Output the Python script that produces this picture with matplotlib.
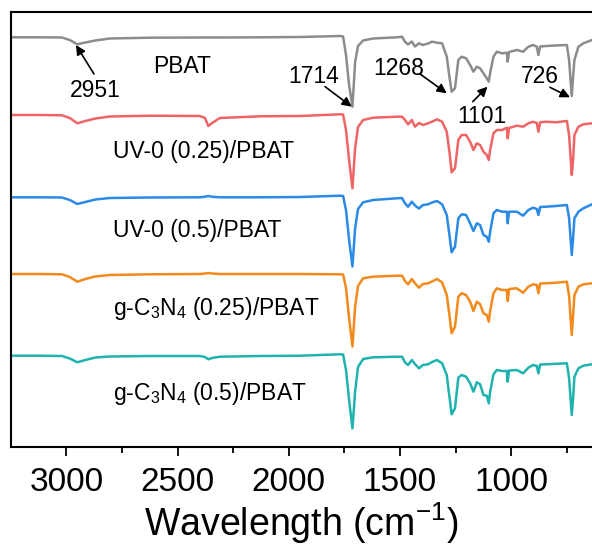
import matplotlib
matplotlib.use("Agg")
import matplotlib.pyplot as plt

plt.rcParams['font.family'] = ['Liberation Sans', 'DejaVu Sans']
plt.rcParams['mathtext.fontset'] = 'custom'
plt.rcParams['mathtext.rm'] = 'Liberation Sans'

# wavenumbers (cm-1)
wn = [3250, 3120, 3020, 2985, 2951, 2915, 2870, 2805, 2625, 2400,
      2377, 2362, 2345, 2310, 2130, 1950, 1770, 1756, 1743, 1729,
      1714, 1702, 1689, 1666, 1621, 1514, 1491, 1478, 1464, 1447,
      1433, 1415, 1397, 1374, 1356, 1334, 1311, 1290, 1278, 1268,
      1253, 1238, 1223, 1203, 1185, 1170, 1155, 1140, 1125, 1110,
      1101, 1095, 1080, 1065, 1041, 1020, 1016, 1010, 975, 947,
      923, 902, 885, 878, 870, 843, 799, 750, 740, 728,
      722, 716, 698, 676, 637]

# stacked transmittance (a.u.)
pbat = [409.7, 409.7, 409.5, 407, 402.7, 404.5, 406.5, 408.5, 409.3, 409.5,
        409.5, 409.5, 409.5, 409.5, 409.7, 410, 411, 410.5, 392, 362,
        340.3, 385, 401, 406.5, 408.5, 409.7, 410.3, 405.3, 402.5, 405.5,
        400.5, 403.7, 402, 403.5, 405.3, 404.3, 403.7, 390.3, 370.3, 355.3,
        358.7, 387, 390.3, 388.7, 382, 375.3, 380.3, 378.7, 373.7, 368.7,
        365.3, 374, 390.3, 395.3, 393.7, 394.3, 385.3, 395, 397, 395.3,
        400.3, 402, 400.3, 392, 400.5, 401, 401.5, 402, 387, 351,
        370.3, 387, 400.3, 403.7, 407]
uv_025 = [332, 332, 331.7, 329, 323.7, 326, 328.5, 330.5, 331.3, 331,
          329, 321, 324, 329, 330.7, 331, 332.7, 332.5, 317, 287,
          258.7, 298.7, 320, 327, 329.3, 330.3, 330.3, 327, 322.7, 327,
          320.3, 324, 322, 323.7, 325.3, 327.7, 325.3, 315.3, 295.3, 274.7,
          278.7, 307, 312, 312, 305.3, 297, 303.7, 302, 295.3, 292,
          287, 297, 313.7, 317, 317, 319.3, 308.7, 319, 321.3, 320.3,
          323.7, 325.3, 324, 315.3, 324.7, 325.3, 324.7, 326, 312, 272,
          287, 312, 320.3, 322.7, 323.7]
uv_05 = [249.7, 249.7, 249.5, 247, 243, 245, 247.5, 249, 249.5, 249.7,
         250.2, 251, 250.2, 249.7, 249.7, 250, 251.3, 251, 237, 207,
         180.5, 218.7, 238, 244.7, 247, 248.7, 249, 243.7, 240.3, 245.3,
         241.5, 238.5, 242, 242.7, 244.5, 246, 242.7, 232, 212, 194.7,
         200.3, 228.7, 232.7, 232, 223.7, 216, 223.7, 222, 212, 210.3,
         205.3, 215, 233.7, 237, 235.3, 235.3, 223.7, 235.3, 235.3, 231.3,
         237, 239.3, 238, 232, 240, 240.3, 241, 242, 229, 192,
         209, 228.7, 235.3, 238.7, 242.7]
cn_025 = [173, 173, 172.7, 170, 165.3, 168, 170.5, 172, 172.7, 173,
          173.5, 174, 173.5, 173, 173, 173, 172.7, 172.5, 159, 129,
          100.5, 140.3, 161, 168.7, 170.3, 171.3, 171.3, 166, 162.7, 168,
          163.7, 159.3, 163, 163.7, 165.5, 168, 164.7, 152, 132, 113.7,
          120.3, 150.3, 153.7, 152, 145.3, 136, 145.3, 142.7, 133.7, 132,
          125.3, 136, 153.7, 158.7, 157, 157, 146, 158, 158.7, 154.3,
          160.3, 162.7, 162, 153.7, 163.5, 163.7, 164.3, 165.3, 151, 112,
          132, 152, 160.3, 162.7, 163.7]
cn_05 = [91.3, 91.3, 91, 88.5, 84.7, 87, 89.5, 90.5, 91, 91,
         90, 87.7, 89, 90.3, 91, 91.3, 92.7, 92.5, 77, 47,
         18.5, 55.3, 80, 88, 89.7, 90.3, 90.3, 84.7, 82, 87,
         83, 78.7, 82, 82.7, 85, 87, 83.7, 72, 50.3, 32.7,
         38.7, 69.3, 72, 70.3, 63.7, 55.3, 64.7, 62.7, 52, 51.3,
         43.7, 55, 72.7, 77, 76, 76, 65.3, 76.5, 77, 73.7,
         79.3, 82, 81, 73.7, 82.5, 82.7, 83.2, 83.7, 69, 32,
         49, 70.3, 78.7, 81.3, 82.7]

series = [pbat, uv_025, uv_05, cn_025, cn_05]
colors = ['#8c8c8c', '#ef6565', '#2b8ae6', '#f28a1c', '#1fb3b0']
names = ['UV-0 (0.25)/PBAT', 'UV-0 (0.5)/PBAT',
         r'g-C$\mathregular{_3}$N$\mathregular{_4}$ (0.25)/PBAT',
         r'g-C$\mathregular{_3}$N$\mathregular{_4}$ (0.5)/PBAT']
name_y = [288.7, 210.3, 132, 47]

# peak marks: (label, text pos, arrow start, arrow tip)
peaks = [('2951', (2869, 350.3), (2876, 373), (2957, 402)),
         ('1714', (1887, 363.7), (1837, 360.3), (1717, 340.3)),
         ('1268', (1504, 372), (1410, 373), (1290, 353.7)),
         ('1101', (1134, 323.7), (1173, 345.3), (1107, 360.3)),
         ('726', (870, 363.7), (826, 359.7), (736, 349.7))]

fig = plt.figure(figsize=(5.92, 5.47), dpi=100)
ax = fig.add_axes([10.8/592, 100/547, 581.2/592, 435/547])

for s, c in zip(series, colors):
  ax.plot(wn, s, color=c, lw=1.8)

ax.text(2482, 373.7, 'PBAT', fontsize=16.5, ha='center', va='baseline')
for n, y in zip(names, name_y):
  ax.text(2790, y, n, fontsize=16.5, ha='left', va='baseline')

for lab, tp, a0, a1 in peaks:
  ax.text(tp[0], tp[1], lab, fontsize=16.5, ha='center', va='baseline')
  ax.annotate('', xy=a1, xytext=a0,
              arrowprops=dict(arrowstyle='-|>', color='k', lw=1.2,
                              mutation_scale=14, shrinkA=0, shrinkB=0))

ax.set_xlim(3250, 637)
ax.set_ylim(0, 435)
ax.set_xticks([3000, 2500, 2000, 1500, 1000])
ax.set_xticks([2750, 2250, 1750, 1250, 750], minor=True)
ax.set_yticks([])
ax.spines['right'].set_visible(False)
for sp in ['left', 'top', 'bottom']:
  ax.spines[sp].set_linewidth(1.5)
ax.tick_params(axis='x', which='major', direction='out', length=6.2, width=1.3,
               labelsize=24, pad=8)
ax.tick_params(axis='x', which='minor', direction='out', length=4.3, width=1.3)
ax.set_xlabel(r'Wavelength (cm$\mathregular{^{-1}}$)', fontsize=27, labelpad=2)

fig.savefig('out.png', dpi=100)
